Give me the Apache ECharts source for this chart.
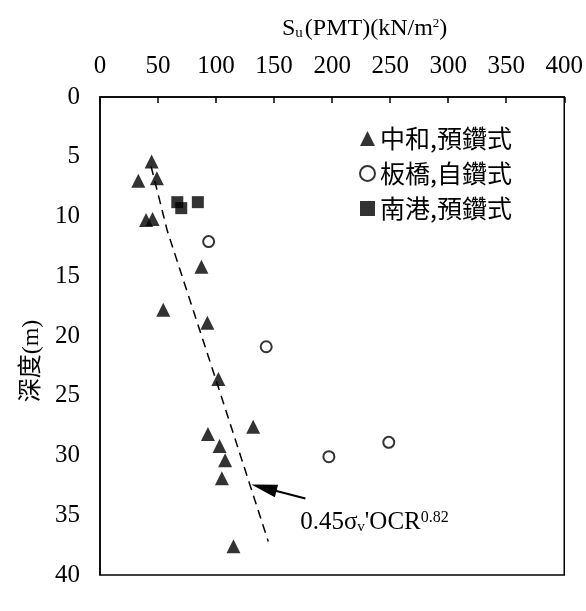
<!DOCTYPE html>
<html><head><meta charset="utf-8">
<script src="https://cdn.jsdelivr.net/npm/echarts@6/dist/echarts.min.js"></script>
<style>html,body{margin:0;padding:0;background:#fff}#c{width:586px;height:611px}</style>
</head><body><div id="c"></div>
<script>
// Tick values
const suTicks = [0, 50, 100, 150, 200, 250, 300, 350, 400];
const depthTicks = [0, 5, 10, 15, 20, 25, 30, 35, 40];
// Series names
const seriesNames = ['中和,預鑽式', '板橋,自鑽式', '南港,預鑽式'];
// 中和, 預鑽式 (triangles)
const zhongheSu    = [44.5, 33, 49, 39.7, 45.3, 87.4, 54.5, 92.5, 102, 132, 93, 103, 107.8, 105, 115];
const zhongheDepth = [5.4, 7.0, 6.8, 10.3, 10.2, 14.2, 17.8, 18.9, 23.6, 27.6, 28.2, 29.2, 30.4, 31.9, 37.6];
// 板橋, 自鑽式 (open circles)
const banqiaoSu    = [93.6, 143.2, 197.2, 248.8];
const banqiaoDepth = [12.1, 20.9, 30.1, 28.9];
// 南港, 預鑽式 (squares)
const nangangSu    = [66.6, 70, 84.3];
const nangangDepth = [8.8, 9.3, 8.8];
// dashed relation line 0.45σv'OCR^0.82
const fitSu    = [44, 58, 96, 125, 145];
const fitDepth = [5.8, 11.2, 22.5, 31.2, 37.2];
// annotation arrow (tail -> head centre) and label anchor
const arrowSu    = [177, 141.2];
const arrowDepth = [33.6, 32.7];
const labelSu = 172, labelDepth = 35.6;

const pairs = (a, b) => a.map((v, i) => [v, b[i]]);
const serif = 'Liberation Serif, Noto Sans CJK TC';
const cjk = 'Noto Sans CJK TC';
// slim arrow head inside a square box (apex up)
const arrowHead = 'path://M-13,0L-13,0M13,26L13,26M0,0L6.5,26L-6.5,26Z';

const chart = echarts.init(document.getElementById('c'));
function buildOption(headRotate) {
  return {
    animation: false,
    backgroundColor: '#fff',
    title: {
      text: 'S{sub|u}(PMT)(kN/m{sup|2})',
      left: 277, top: 12,
      textStyle: {
        fontFamily: serif, fontSize: 24, fontWeight: 'normal', color: '#000',
        rich: {
          sub: { fontFamily: serif, fontSize: 15, color: '#000', verticalAlign: 'bottom', padding: [8, 2, 0, 0] },
          sup: { fontFamily: serif, fontSize: 13, color: '#000', verticalAlign: 'top', padding: [0, 0, 8, 0] }
        }
      }
    },
    legend: {
      data: seriesNames.map(n => ({ name: n })),
      orient: 'vertical',
      left: 354, top: 121,
      itemWidth: 15, itemHeight: 15, itemGap: 10,
      textStyle: { fontFamily: cjk, fontSize: 25, color: '#000' }
    },
    grid: {
      left: 100, right: 16, top: 97, bottom: 36,
      show: true, borderColor: '#000', borderWidth: 1.5, backgroundColor: 'transparent'
    },
    xAxis: {
      type: 'value', position: 'top',
      min: suTicks[0], max: suTicks[suTicks.length - 1], interval: suTicks[1] - suTicks[0],
      axisLine: { show: true, lineStyle: { color: '#000', width: 1.5 } },
      axisTick: { show: true, inside: true, length: 6, lineStyle: { color: '#000', width: 1.5 } },
      axisLabel: { fontFamily: serif, fontSize: 25, color: '#000', margin: 18 },
      splitLine: { show: false }
    },
    yAxis: {
      type: 'value', inverse: true,
      min: depthTicks[0], max: depthTicks[depthTicks.length - 1], interval: depthTicks[1] - depthTicks[0],
      name: '深度(m)', nameLocation: 'middle', nameGap: 56, nameRotate: 90,
      nameTextStyle: { fontFamily: serif, fontSize: 24, color: '#000', padding: [0, 50, 0, 0] },
      axisLine: { show: true, lineStyle: { color: '#000', width: 1.5 } },
      axisTick: { show: false },
      axisLabel: { fontFamily: serif, fontSize: 25, color: '#000', margin: 20 },
      splitLine: { show: false }
    },
    series: [
      {
        name: seriesNames[0], type: 'scatter', symbol: 'triangle', symbolSize: 14,
        itemStyle: { color: '#000' },
        data: pairs(zhongheSu, zhongheDepth)
      },
      {
        name: seriesNames[1], type: 'scatter', symbol: 'circle', symbolSize: 11,
        itemStyle: { color: '#fff', borderColor: '#000', borderWidth: 2 },
        data: pairs(banqiaoSu, banqiaoDepth)
      },
      {
        name: seriesNames[2], type: 'scatter', symbol: 'rect', symbolSize: 12,
        itemStyle: { color: '#000' },
        data: pairs(nangangSu, nangangDepth)
      },
      {
        name: 'fit', type: 'line', symbol: 'none', silent: true,
        lineStyle: { color: '#000', width: 1.5, type: [9, 6] },
        data: pairs(fitSu, fitDepth),
        markPoint: {
          silent: true, symbol: 'circle', symbolSize: 1,
          itemStyle: { color: 'rgba(0,0,0,0)' },
          label: {
            show: true, position: 'right', distance: 0,
            formatter: "0.45σ{sub|v}'OCR{sup|0.82}",
            fontFamily: serif, fontSize: 25, color: '#000',
            rich: {
              sub: { fontFamily: serif, fontSize: 15, color: '#000', verticalAlign: 'bottom', padding: [8, 0, 0, 0] },
              sup: { fontFamily: serif, fontSize: 16, color: '#000', verticalAlign: 'top', padding: [0, 0, 9, 0] }
            }
          },
          data: [{ coord: [labelSu, labelDepth] }]
        }
      },
      {
        name: 'arrow', type: 'line', silent: true, showAllSymbol: true,
        lineStyle: { color: '#000', width: 2, type: 'solid' },
        itemStyle: { color: '#000', borderWidth: 0 },
        data: [
          { value: [arrowSu[0], arrowDepth[0]], symbol: 'none' },
          { value: [arrowSu[1], arrowDepth[1]], symbol: arrowHead, symbolSize: 26, symbolRotate: headRotate }
        ]
      }
    ]
  };
}
chart.setOption(buildOption(0));
const pTail = chart.convertToPixel({ gridIndex: 0 }, [arrowSu[0], arrowDepth[0]]);
const pHead = chart.convertToPixel({ gridIndex: 0 }, [arrowSu[1], arrowDepth[1]]);
const dx = pHead[0] - pTail[0], dy = pHead[1] - pTail[1];
// rotate apex (pointing up) to the tail->head direction; positive = counter-clockwise
const rot = Math.atan2(-dx, -dy) * 180 / Math.PI;
chart.setOption(buildOption(rot));
</script>
</body></html>
